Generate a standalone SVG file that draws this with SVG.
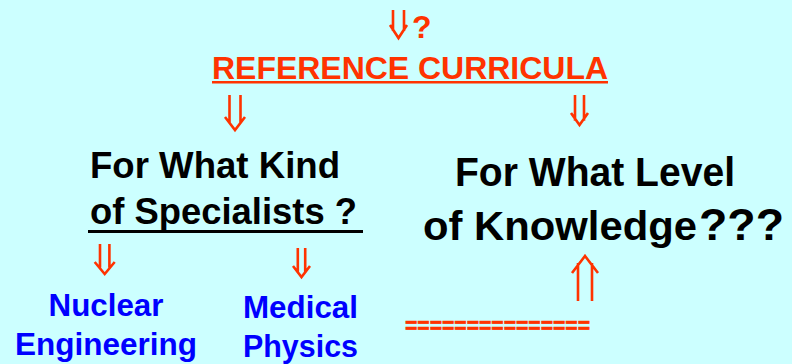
<svg xmlns="http://www.w3.org/2000/svg" width="792" height="364" viewBox="0 0 792 364">
<style>
.bg{fill:#CCFFFF}
.t{font-family:"Liberation Sans",Arial,sans-serif;font-weight:bold}
.red{fill:#FF3300}
.blk{fill:#000000}
.blu{fill:#0000FF}
.arr{fill:none;stroke:#FF3300;stroke-width:2.6;stroke-linejoin:miter}
</style>
<rect class="bg" x="0" y="0" width="792" height="364"/>
<g id="connectors">
<path class="arr" d="M393,10 V30.9 M404,10 V30.9 M390,25 L398.5,38 L407,25"/>
<path class="arr" d="M229.5,95 V122.9 M240.5,95 V122.9 M225,117 L235,130 L245,117"/>
<path class="arr" d="M575,95 V120.8 M584,95 V120.8 M571,113 L579.5,125 L588,113"/>
<path class="arr" d="M100,244 V267.6 M109.4,244 V267.6 M94.7,262 L104.7,274 L114.7,262"/>
<path class="arr" d="M297.8,248 V272 M305.2,248 V272 M293,266 L301.5,277 L310,266"/>
<path class="arr" d="M578,301 V263 M592,301 V263 M572,273 L585,256 L598,273"/>
</g>
<g id="q-top"><text class="t red" x="412" y="38" font-size="32">?</text></g>
<g id="ref-curricula">
<text class="t red" x="212" y="79" font-size="32" textLength="396" lengthAdjust="spacingAndGlyphs">REFERENCE CURRICULA</text>
<rect class="red" x="212" y="81" width="396" height="2.5"/>
</g>
<g id="kind">
<text class="t blk" x="90" y="178" font-size="36" textLength="250" lengthAdjust="spacingAndGlyphs">For What Kind</text>
<text class="t blk" x="90" y="224" font-size="36" textLength="267" lengthAdjust="spacingAndGlyphs">of Specialists ?</text>
<rect class="blk" x="88" y="230" width="275" height="3"/>
</g>
<g id="level">
<text class="t blk" x="455" y="186" font-size="40" textLength="280" lengthAdjust="spacingAndGlyphs">For What Level</text>
<text class="t blk" x="423" y="240" font-size="41" textLength="274" lengthAdjust="spacingAndGlyphs">of Knowledge</text>
<text class="t blk" x="699" y="240" font-size="44" textLength="85" lengthAdjust="spacingAndGlyphs">???</text>
</g>
<g id="nuclear">
<text class="t blu" x="106" y="316" font-size="31.5" text-anchor="middle" textLength="115" lengthAdjust="spacingAndGlyphs">Nuclear</text>
<text class="t blu" x="106" y="355" font-size="31.5" text-anchor="middle" textLength="182" lengthAdjust="spacingAndGlyphs">Engineering</text>
</g>
<g id="medical">
<text class="t blu" x="300.5" y="318" font-size="31.5" text-anchor="middle" textLength="115" lengthAdjust="spacingAndGlyphs">Medical</text>
<text class="t blu" x="300.5" y="357" font-size="31.5" text-anchor="middle" textLength="115" lengthAdjust="spacingAndGlyphs">Physics</text>
</g>
<g id="equals">
<text class="t red" x="405" y="333" font-size="22" stroke="#FF3300" stroke-width="0.6" textLength="185" lengthAdjust="spacingAndGlyphs">===============</text>
</g>
</svg>
